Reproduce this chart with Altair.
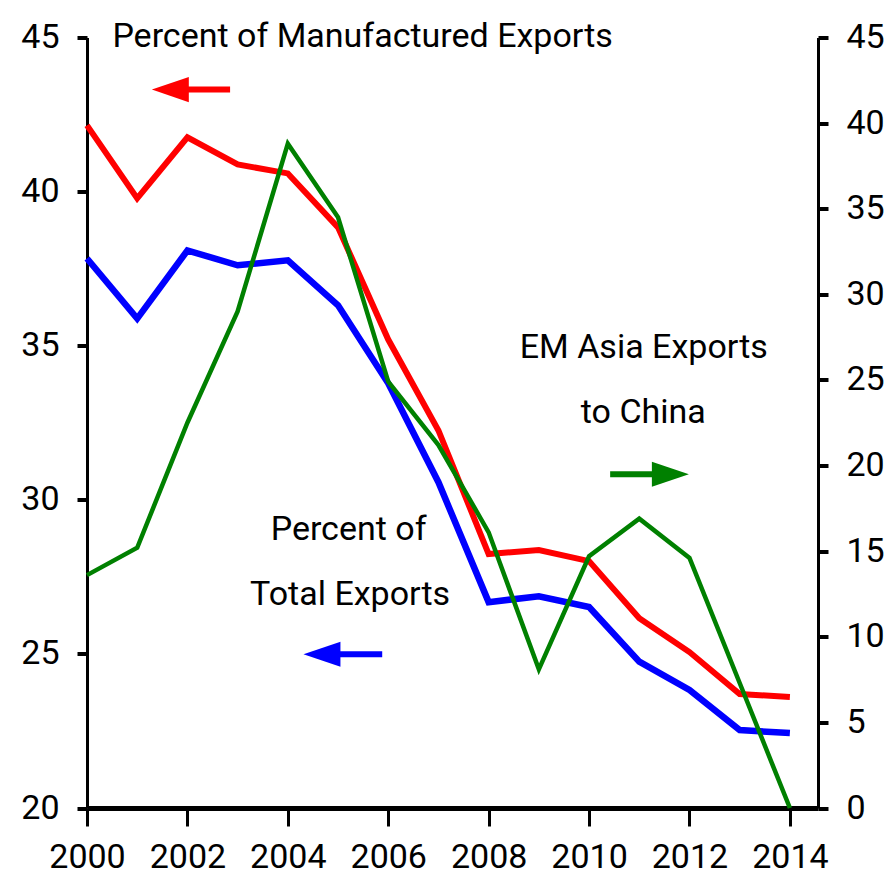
import altair as alt
import pandas as pd

# ---------------- data ----------------
years = list(range(2000, 2015))
manufactured = [42.15, 39.78, 41.76, 40.88, 40.59, 38.84, 35.2, 32.25, 28.24, 28.37,
                28.01, 26.16, 25.06, 23.70, 23.60]
total = [37.83, 35.88, 38.09, 37.61, 37.77, 36.31, 33.78, 30.57, 26.68, 26.87,
         26.52, 24.75, 23.83, 22.53, 22.43]
china = [13.6, 15.2, 22.5, 29.0, 38.8, 34.5, 24.9, 21.2, 16.1, 8.1,
         14.7, 16.9, 14.6, 7.3, 0.0]

series_names = ["Manufactured", "Total"]
series_colors = ["#ff0000", "#0000ff"]
series_widths = [6, 6.5]
green = "#008000"

label_text = ["Percent of Manufactured Exports", "Percent of", "Total Exports",
              "EM Asia Exports", "to China"]
label_x = [2005.49, 2005.21, 2005.24, 2011.09, 2011.08]
label_y = [44.68, 28.69, 26.58, 34.59, 32.48]

arrow_colors = ["#ff0000", "#0000ff", "#008000"]
arrow_head_x = [2001.66, 2004.68, 2011.62]
arrow_tail_x = [2002.85, 2005.88, 2010.42]
arrow_y = [43.31, 24.99, 30.83]
arrow_dir = ["left", "left", "right"]

left_ticks = [20, 25, 30, 35, 40, 45]
right_ticks = [0, 5, 10, 15, 20, 25, 30, 35, 40, 45]
x_ticks = [2000, 2002, 2004, 2006, 2008, 2010, 2012, 2014]

FONT = "Roboto, DejaVu Sans, sans-serif"

# ---------------- frames ----------------
df_left = pd.DataFrame({
    "year": years * 2,
    "value": manufactured + total,
    "series": [series_names[0]] * len(years) + [series_names[1]] * len(years),
})
df_green = pd.DataFrame({"year": years, "value": china})
df_text = pd.DataFrame({"x": label_x, "y": label_y, "label": label_text})
df_arrow = pd.DataFrame({"head": arrow_head_x, "tail": arrow_tail_x, "y": arrow_y,
                         "color": arrow_colors, "dir": arrow_dir})

xscale = alt.Scale(domain=[2000, 2014.56], nice=False, zero=False)
yl = alt.Scale(domain=[20, 45], nice=False, zero=False)
yr = alt.Scale(domain=[0, 45], nice=False, zero=True)

x_axis = alt.Axis(values=x_ticks, format="d", title=None, tickSize=18, tickWidth=3,
                  domainWidth=5, labelFontSize=34, labelPadding=14, labelFont=FONT,
                  labelOverlap=False, labelFlush=False,
                  labelColor="black", domainColor="black", tickColor="black", grid=False)
left_axis = alt.Axis(values=left_ticks, title=None, tickSize=10, tickWidth=4, domainWidth=3,
                     labelFontSize=34, labelPadding=18, labelFont=FONT, labelColor="black",
                     labelOverlap=False, labelFlush=False,
                     domainColor="black", tickColor="black", grid=False)
right_axis = alt.Axis(values=right_ticks, orient="right", title=None, tickSize=10, tickWidth=4,
                      domainWidth=3, labelFontSize=34, labelPadding=18, labelFont=FONT,
                      labelOverlap=False, labelFlush=False,
                      labelColor="black", domainColor="black", tickColor="black", grid=False)

X = lambda f: alt.X(f, scale=xscale, axis=x_axis)
YL = lambda f: alt.Y(f, scale=yl, axis=left_axis)

lines = alt.Chart(df_left).mark_line(strokeCap="butt", strokeJoin="miter").encode(
    x=X("year:Q"),
    y=YL("value:Q"),
    color=alt.Color("series:N", scale=alt.Scale(domain=series_names, range=series_colors), legend=None),
    strokeWidth=alt.StrokeWidth("series:N", scale=alt.Scale(domain=series_names, range=series_widths), legend=None),
)

texts = alt.Chart(df_text).mark_text(font=FONT, fontSize=34, color="black",
                                     align="center", baseline="alphabetic").encode(
    x=X("x:Q"),
    y=YL("y:Q"),
    text="label:N",
)

shafts = alt.Chart(df_arrow).mark_rule(strokeWidth=6, strokeCap="butt").encode(
    x=X("head:Q"),
    x2="tail:Q",
    y=YL("y:Q"),
    color=alt.Color("color:N", scale=None, legend=None),
)

left_path = "M -1 0 L 1 -0.68 L 1 0.68 Z"
right_path = "M 1 0 L -1 -0.68 L -1 0.68 Z"

heads = alt.Chart(df_arrow).mark_point(filled=True, opacity=1, size=1369, strokeWidth=0).encode(
    x=X("head:Q"),
    y=YL("y:Q"),
    color=alt.Color("color:N", scale=None, legend=None),
    shape=alt.Shape("dir:N", scale=alt.Scale(domain=["left", "right"], range=[left_path, right_path]), legend=None),
)

left_layer = alt.layer(lines, texts, shafts, heads)

green_line = alt.Chart(df_green).mark_line(color=green, strokeWidth=4.5, strokeJoin="miter").encode(
    x=X("year:Q"),
    y=alt.Y("value:Q", scale=yr, axis=right_axis),
)

chart = alt.layer(left_layer, green_line).resolve_scale(y="independent").properties(
    width=731,
    height=770.5,
    autosize=alt.AutoSizeParams(type="none"),
    padding={"left": 79, "top": 29.5, "right": 68, "bottom": 69},
).configure_view(stroke=None).configure_axis(grid=False)

chart.save("out.html", embed_options={"renderer": "svg", "actions": False})
